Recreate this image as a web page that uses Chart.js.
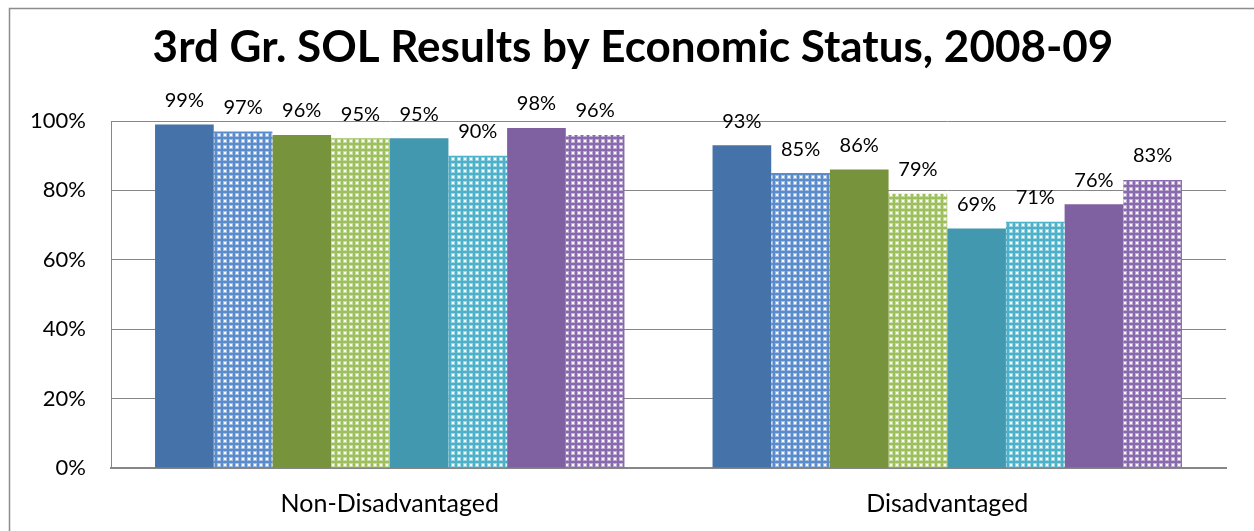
<!DOCTYPE html>
<html>
<head>
<meta charset="utf-8">
<script src="https://cdn.jsdelivr.net/npm/chart.js@4/dist/chart.umd.min.js"></script>
<style>
  html, body { margin: 0; padding: 0; background: #fff; }
  #wrap { position: relative; width: 1254px; height: 531px; }
  canvas { display: block; }
</style>
</head>
<body>
<div id="wrap"><canvas id="chart" width="1254" height="531"></canvas></div>
<script>
// Categories and tick labels
const categories = ['Non-Disadvantaged', 'Disadvantaged'];
const yTickLabels = ['0%', '20%', '40%', '60%', '80%', '100%'];
const chartTitle = '3rd Gr. SOL Results by Economic Status, 2008-09';

// Pass rates (%) for each of the eight series
const series1 = [99, 93];
const series2 = [97, 85];
const series3 = [96, 86];
const series4 = [95, 79];
const series5 = [95, 69];
const series6 = [90, 71];
const series7 = [98, 76];
const series8 = [96, 83];

const seriesValues = [series1, series2, series3, series4, series5, series6, series7, series8];
const solidColors = ['#4572A8', null, '#77933C', null, '#4198AF', null, '#7F60A0', null];
const dottedBase = [null, '#5A8BCB', null, '#9DC05C', null, '#4DB1CA', null, '#8A6AAE'];

const FONT = 'Lato, "Liberation Sans", sans-serif';

// Small repeating tile: base colour with a soft white dot
function dotPattern(base) {
  const c = document.createElement('canvas');
  c.width = 6; c.height = 6;
  const g = c.getContext('2d');
  g.fillStyle = base;
  g.fillRect(0, 0, 6, 6);
  g.fillStyle = 'rgba(255,255,255,0.45)';
  g.fillRect(1, 1, 4, 4);
  g.fillStyle = 'rgba(255,255,255,0.95)';
  g.fillRect(2, 2, 2, 2);
  return g.createPattern(c, 'repeat');
}

const datasets = seriesValues.map((vals, i) => ({
  label: 'Series ' + (i + 1),
  data: vals,
  backgroundColor: solidColors[i] ? solidColors[i] : dotPattern(dottedBase[i]),
  borderWidth: 0,
  barPercentage: 1.0,
  categoryPercentage: 0.842
}));

// Percentage labels above each bar
const valueLabels = {
  id: 'valueLabels',
  afterDatasetsDraw(chart) {
    const ctx = chart.ctx;
    ctx.save();
    ctx.font = '20px ' + FONT;
    ctx.fillStyle = '#000';
    ctx.textAlign = 'center';
    ctx.textBaseline = 'middle';
    chart.data.datasets.forEach((ds, di) => {
      const meta = chart.getDatasetMeta(di);
      meta.data.forEach((bar, idx) => {
        ctx.fillText(ds.data[idx] + '%', bar.x, bar.y - 24);
      });
    });
    ctx.restore();
  }
};

// Outer frame and the heading above the plot
const frameAndTitle = {
  id: 'frameAndTitle',
  beforeDraw(chart) {
    const ctx = chart.ctx;
    ctx.save();
    ctx.strokeStyle = '#8c8c8c';
    ctx.lineWidth = 1.5;
    ctx.beginPath();
    ctx.moveTo(9.5, 540);
    ctx.lineTo(9.5, 8.5);
    ctx.lineTo(1260, 8.5);
    ctx.stroke();

    ctx.font = 'bold 44px ' + FONT;
    ctx.fillStyle = '#000';
    ctx.textAlign = 'center';
    ctx.textBaseline = 'middle';
    ctx.fillText(chartTitle, 633, 48);
    ctx.restore();
  }
};

new Chart(document.getElementById('chart'), {
  type: 'bar',
  data: { labels: categories, datasets },
  options: {
    responsive: false,
    animation: false,
    layout: { padding: { left: 0, right: 28, top: 121, bottom: 0 } },
    plugins: {
      legend: { display: false },
      tooltip: { enabled: false },
      title: { display: false }
    },
    scales: {
      x: {
        grid: { display: false, drawTicks: false },
        border: { display: true, color: '#868686', width: 2 },
        ticks: {
          color: '#000',
          padding: 21,
          font: { family: FONT, size: 25 }
        },
        afterFit(scale) { scale.height = 63; }
      },
      y: {
        min: 0,
        max: 100,
        grid: { color: '#868686', lineWidth: 1, drawTicks: false },
        border: { display: true, color: '#868686', width: 1 },
        ticks: {
          stepSize: 20,
          color: '#000',
          padding: 25,
          font: { family: FONT, size: 22 },
          callback: (v) => yTickLabels[Math.round(v / 20)]
        },
        afterFit(scale) { scale.width = 111; }
      }
    }
  },
  plugins: [valueLabels, frameAndTitle]
});
</script>
</body>
</html>
